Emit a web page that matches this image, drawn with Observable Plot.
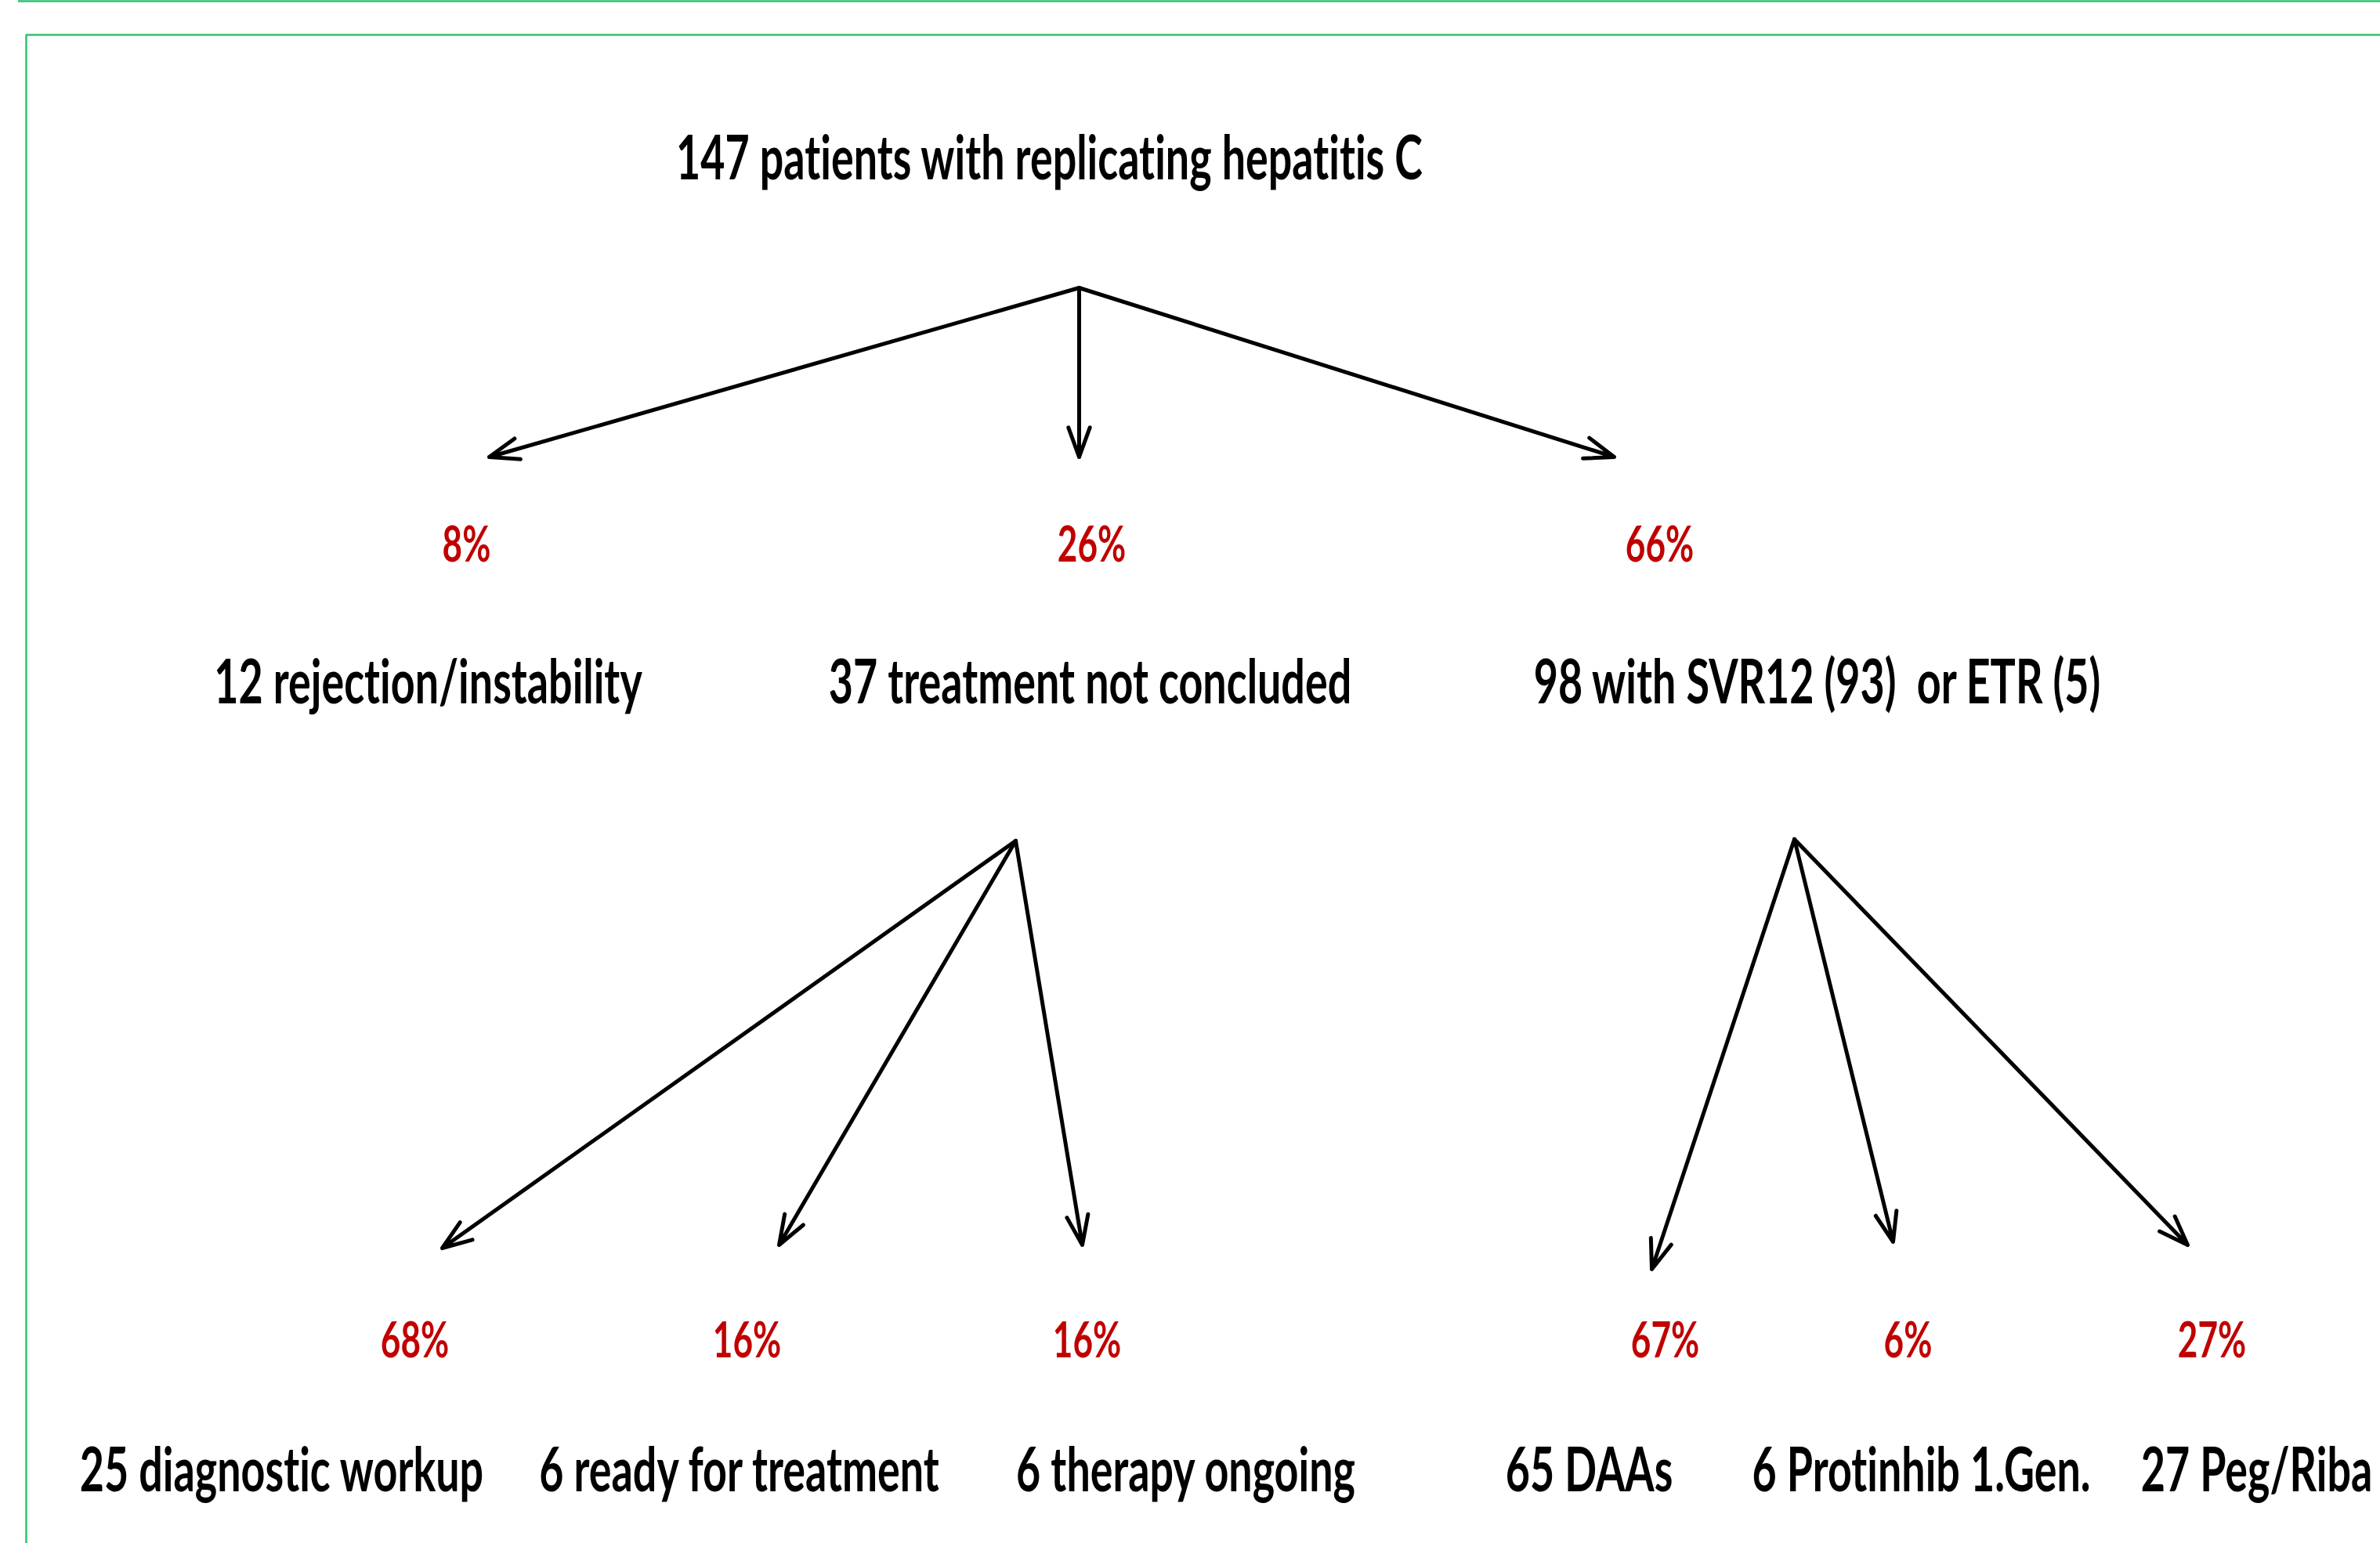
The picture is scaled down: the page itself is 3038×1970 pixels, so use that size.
<!DOCTYPE html>
<html>
<head>
<meta charset="utf-8">
<script src="https://cdn.jsdelivr.net/npm/d3@7"></script>
<script src="https://cdn.jsdelivr.net/npm/@observablehq/plot@0.6"></script>
<style>
  html, body { margin: 0; padding: 0; background: #fff; overflow: hidden; }
  #chart svg { display: block; }
  #chart text { font-variant-ligatures: none; font-feature-settings: "liga" 0, "clig" 0, "dlig" 0; }
</style>
</head>
<body>
<div id="chart"></div>
<script>
// ---------- DATA ----------
const nodeCounts = [147, 12, 37, 98, 25, 6, 6, 65, 6, 27];
const nodeTexts = [
  "patients with replicating hepatitis C",
  "rejection/instability",
  "treatment not concluded",
  "with SVR12 (93)  or ETR (5)",
  "diagnostic workup",
  "ready for treatment",
  "therapy ongoing",
  "DAAs",
  "Protinhib 1.Gen.",
  "Peg/Riba"
];
const nodeLevels = [0, 1, 1, 1, 2, 2, 2, 2, 2, 2];
const nodeParents = [null, 0, 0, 0, 2, 2, 2, 3, 3, 3];
const sharePercents = [null, 8, 26, 66, 68, 16, 16, 67, 6, 27];

// ---------- LAYOUT (diagram units) ----------
const W = 3038, H = 1970;
const labelX   = [1339, 546, 1391, 2319, 359, 943, 1513, 2028, 2452, 2880];
const percentX = [null, 595, 1393, 2118, 529, 953, 1387, 2125, 2435, 2823];
const tipX     = [null, 624, 1377, 2060, 564, 994, 1381, 2108, 2416, 2792];
const tipY     = [null, 583, 583, 583, 1593, 1589, 1589, 1620, 1585, 1589];
const forkX = {0: 1377, 2: 1296, 3: 2290};
const forkY = {0: 367, 2: 1073, 3: 1071};
const labelBaseline = [228, 897, 1903];
const percentBaseline = [null, 716, 1732];
const frame = {topLineY: 1, topLineX1: 23, boxX: 33, boxY: 44};

const SX = 0.69;          // horizontal compression of the lettering
const FONT = "Lato, 'Open Sans', sans-serif";

// ---------- derived tables ----------
const nodes = nodeCounts.map((c, i) => ({
  label: `${c} ${nodeTexts[i]}`,
  level: nodeLevels[i],
  x: labelX[i],
  y: labelBaseline[nodeLevels[i]]
}));
const edges = nodeParents.map((p, i) => p == null ? null : ({
  x1: forkX[p], y1: forkY[p], x2: tipX[i], y2: tipY[i]
})).filter(d => d);
const shares = sharePercents.map((p, i) => p == null ? null : ({
  label: `${p}%`, x: percentX[i], y: percentBaseline[nodeLevels[i]]
})).filter(d => d);

const green = "#2ec26f";

const chart = Plot.plot({
  width: W,
  height: H,
  margin: 0,
  style: {background: "#fff", fontFamily: FONT},
  x: {domain: [0, W], range: [0, W], axis: null},
  y: {domain: [0, H], range: [0, H], axis: null},
  marks: [
    Plot.ruleY([frame.topLineY], {x1: frame.topLineX1, x2: W + 10, stroke: green, strokeWidth: 2.5}),
    Plot.ruleY([frame.boxY], {x1: frame.boxX, x2: W + 10, stroke: green, strokeWidth: 2.5}),
    Plot.ruleX([frame.boxX], {y1: frame.boxY, y2: H + 10, stroke: green, strokeWidth: 2.5}),
    Plot.arrow(edges, {
      x1: "x1", y1: "y1", x2: "x2", y2: "y2",
      stroke: "#000", strokeWidth: 5, headLength: 12, headAngle: 40
    }),
    Plot.text(nodes, {
      x: "x", y: "y", text: "label",
      textAnchor: "middle", lineAnchor: "bottom",
      fontSize: 78, fontWeight: 700, fill: "#000"
    }),
    Plot.text(shares, {
      x: "x", y: "y", text: "label",
      textAnchor: "middle", lineAnchor: "bottom",
      fontSize: 64, fontWeight: 700, fill: "#c00000"
    })
  ]
});

// compress lettering horizontally around each label's anchor
chart.querySelectorAll("text").forEach(t => {
  let tr = t.getAttribute("transform");
  if (!tr) {
    const x = t.getAttribute("x") || 0, y = t.getAttribute("y") || 0;
    t.removeAttribute("x"); t.removeAttribute("y");
    tr = `translate(${x},${y})`;
  }
  t.setAttribute("transform", `${tr} scale(${SX},1)`);
});

document.getElementById("chart").appendChild(chart);
</script>
</body>
</html>
